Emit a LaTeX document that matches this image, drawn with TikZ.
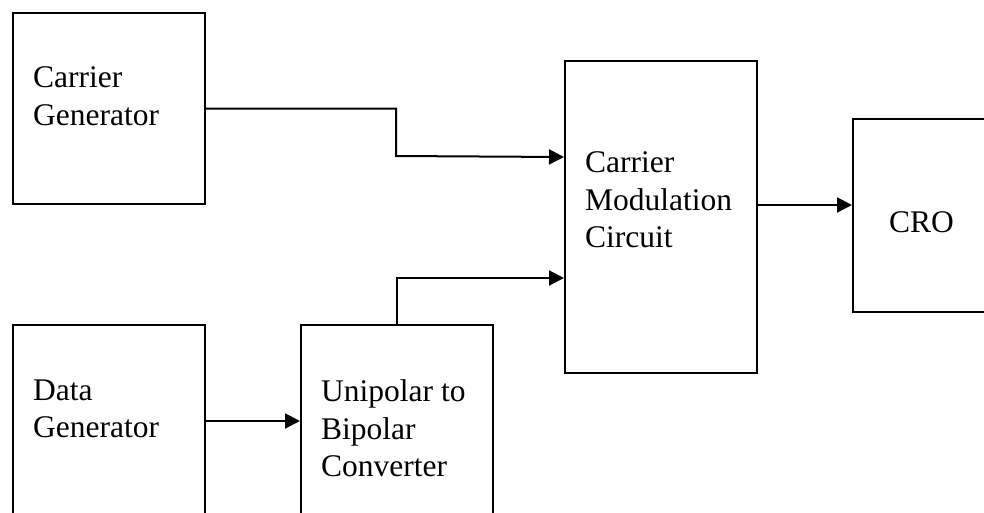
\documentclass[tikz,border=0pt]{standalone}
\usepackage{fontspec}
\setmainfont{Liberation Serif}
\usetikzlibrary{arrows.meta, positioning, calc}
\tikzset{
	blk/.style ={rectangle, draw=black, line width=2pt, anchor=north west, inner sep=0pt},
	lbl/.style ={anchor=north west, align=left, inner sep=0pt, font=\fontsize{31.5}{37.5}\selectfont},
	sig/.style ={-{Triangle[length=15pt, width=15pt]}, line width=2pt},
}
\begin{document}
\begin{tikzpicture}[x=1pt, y=-1pt]
	\useasboundingbox (0,0) rectangle (984,512);
	\clip (0,0) rectangle (984,512);
	% blocks
	\node[blk, minimum width=192, minimum height=191] (cg) at (12,12) {};
	\node[blk, minimum width=192, minimum height=192] (dg) at (12,324) {};
	\node[blk, minimum width=192, minimum height=192] (ubc) at (300,324) {};
	\node[blk, minimum width=192, minimum height=312] (cmc) at (564,60) {};
	\node[blk, minimum width=192, minimum height=193] (cro) at (852,118) {};
	% texts
	\node[lbl] (cgtxt) at (33,66.5) {Carrier\\Generator};
	\node[lbl] (dgtxt) at (33,379.5) {Data\\Generator};
	\node[lbl] (ubctxt) at (321,379.5) {Unipolar to\\Bipolar\\Converter};
	\node[lbl] (cmctxt) at (585,151.5) {Carrier\\Modulation\\Circuit};
	\node[lbl] (crotxt) at (889,211.5) {CRO};
	% connections
	\coordinate (knee) at (396,156);
	\coordinate (cmcout) at ([yshift=12pt]cmc.east);
	\draw[sig] (cg.east) -| (knee) -- ([yshift=60pt]cmc.west);
	\draw[sig] (ubc.north) |- ([yshift=-61pt]cmc.west);
	\draw[sig] (dg.east) -- (ubc.west);
	\draw[sig] (cmcout) -- (cmcout -| cro.west);
\end{tikzpicture}
\end{document}
